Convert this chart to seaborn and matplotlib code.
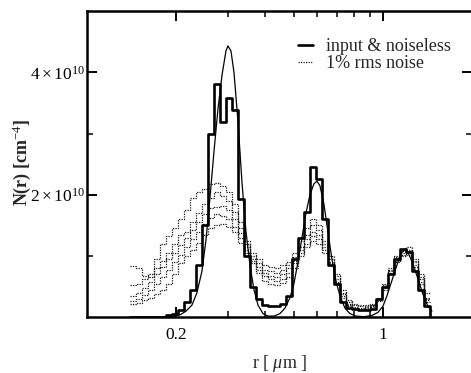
import numpy as np
import pandas as pd
import matplotlib
matplotlib.use("Agg")
import matplotlib.pyplot as plt
import seaborn as sns
from matplotlib.lines import Line2D
from matplotlib.ticker import FixedLocator, NullFormatter

# ---------------- data (N in units of 1e10 cm^-4) ----------------
bin_edges = [0.1397, 0.1464, 0.1534, 0.1607, 0.1683, 0.1764, 0.1848, 0.1936, 0.2029, 0.2125,
             0.2227, 0.2333, 0.2445, 0.2561, 0.2684, 0.2812, 0.2946, 0.3087, 0.3234, 0.3389,
             0.3550, 0.3720, 0.3898, 0.4084, 0.4279, 0.4483, 0.4697, 0.4921, 0.5156, 0.5402,
             0.5660, 0.5930, 0.6213, 0.6510, 0.6821, 0.7147, 0.7488, 0.7845, 0.8220, 0.8612,
             0.9023, 0.9454, 0.9905, 1.0378, 1.0873, 1.1392, 1.1936, 1.2506, 1.3103, 1.3729,
             1.4384]

noiseless = [0.0, 0.0, 0.0, 0.0, 0.0, 0.01, 0.03, 0.05, 0.12, 0.25,
             0.45, 0.85, 1.50, 2.99, 3.81, 3.19, 3.58, 3.38, 1.93, 1.00,
             0.50, 0.30, 0.20, 0.18, 0.18, 0.22, 0.35, 0.95, 1.30, 1.72,
             2.46, 2.25, 1.60, 0.85, 0.55, 0.25, 0.15, 0.13, 0.12, 0.12,
             0.14, 0.30, 0.50, 0.70, 0.95, 1.11, 1.06, 0.75, 0.45, 0.18]

noise_a = [0.83, 0.80, 0.68, 0.65, 0.95, 1.19, 1.32, 1.45, 1.60, 1.75,
           1.95, 2.05, 2.10, 2.17, 2.20, 2.15, 2.05, 1.85, 1.55, 1.25,
           1.05, 0.95, 0.85, 0.82, 0.80, 0.85, 0.90, 1.05, 1.25, 1.45,
           1.60, 1.50, 1.25, 1.00, 0.70, 0.45, 0.28, 0.22, 0.20, 0.20,
           0.22, 0.30, 0.55, 0.80, 1.00, 1.12, 1.15, 0.95, 0.70, 0.40]
noise_b = [0.52, 0.55, 0.62, 0.70, 0.80, 0.92, 1.05, 1.20, 1.35, 1.40,
           1.55, 1.70, 1.85, 1.95, 2.05, 1.98, 1.90, 1.72, 1.45, 1.20,
           1.00, 0.88, 0.78, 0.75, 0.72, 0.78, 0.85, 0.98, 1.15, 1.35,
           1.50, 1.42, 1.20, 0.95, 0.68, 0.40, 0.25, 0.20, 0.18, 0.18,
           0.20, 0.32, 0.50, 0.78, 0.98, 1.08, 1.10, 0.92, 0.62, 0.32]
noise_c = [0.34, 0.40, 0.48, 0.58, 0.70, 0.82, 0.95, 1.05, 1.18, 1.30,
           1.42, 1.55, 1.68, 1.78, 1.80, 1.82, 1.75, 1.60, 1.38, 1.15,
           0.95, 0.82, 0.72, 0.68, 0.65, 0.70, 0.80, 0.92, 1.10, 1.28,
           1.40, 1.35, 1.15, 0.90, 0.62, 0.38, 0.22, 0.17, 0.15, 0.16,
           0.20, 0.30, 0.52, 0.75, 0.95, 1.05, 1.08, 0.90, 0.65, 0.30]
noise_d = [0.26, 0.30, 0.36, 0.45, 0.55, 0.65, 0.78, 0.90, 1.02, 1.15,
           1.28, 1.40, 1.52, 1.62, 1.68, 1.65, 1.60, 1.48, 1.30, 1.10,
           0.92, 0.78, 0.68, 0.62, 0.60, 0.62, 0.72, 0.88, 1.05, 1.20,
           1.32, 1.28, 1.10, 0.88, 0.58, 0.35, 0.20, 0.15, 0.14, 0.15,
           0.18, 0.28, 0.48, 0.72, 0.92, 1.02, 1.05, 0.85, 0.58, 0.28]
noise_e = [0.21, 0.24, 0.28, 0.32, 0.38, 0.45, 0.54, 0.70, 0.88, 1.00,
           1.10, 1.22, 1.35, 1.45, 1.50, 1.52, 1.48, 1.40, 1.22, 1.05,
           0.88, 0.72, 0.60, 0.55, 0.52, 0.56, 0.65, 0.80, 1.00, 1.15,
           1.25, 1.20, 1.05, 0.85, 0.55, 0.32, 0.18, 0.13, 0.12, 0.13,
           0.16, 0.26, 0.45, 0.70, 0.90, 1.00, 1.02, 0.82, 0.55, 0.25]

input_r = [0.1397, 0.1764, 0.1907, 0.2061, 0.2159, 0.2262, 0.2351, 0.2444, 0.2521, 0.2602,
           0.2684, 0.2769, 0.2857, 0.2947, 0.2993, 0.3063, 0.3136, 0.3235, 0.3338, 0.3443,
           0.3552, 0.3664, 0.3780, 0.3929, 0.4084, 0.4279, 0.4483, 0.4662, 0.4848, 0.5000,
           0.5158, 0.5321, 0.5489, 0.5662, 0.5841, 0.5978, 0.6118, 0.6312, 0.6511, 0.6717,
           0.6929, 0.7148, 0.7434, 0.7729, 0.8097, 0.8617, 0.9170, 0.9608, 0.9989, 1.0304,
           1.0628, 1.0963, 1.1308, 1.1575, 1.1849, 1.2131, 1.2417, 1.2808, 1.3213, 1.3629,
           1.4168, 1.4622]
input_n = [0.0, 0.0, 0.01, 0.04, 0.10, 0.20, 0.40, 0.75, 1.25, 1.95,
           2.70, 3.40, 3.95, 4.35, 4.43, 4.35, 4.00, 3.20, 2.20, 1.40,
           0.85, 0.45, 0.20, 0.06, 0.02, 0.02, 0.06, 0.15, 0.32, 0.55,
           0.90, 1.30, 1.70, 2.00, 2.18, 2.22, 2.15, 1.85, 1.40, 0.95,
           0.60, 0.35, 0.15, 0.06, 0.02, 0.01, 0.03, 0.08, 0.18, 0.35,
           0.55, 0.75, 0.95, 1.06, 1.10, 1.06, 0.95, 0.78, 0.58, 0.38,
           0.18, 0.10]

x_major = [0.2, 1.0]
x_major_labels = ["0.2", "1"]
x_minor = [0.3, 0.4, 0.5, 0.6, 0.7, 0.8, 0.9]
y_major = [2, 4]
y_major_labels = [r"$2\times10^{10}$", r"$4\times10^{10}$"]
y_minor = [1, 3]
legend_labels = ["input & noiseless", "1% rms noise"]

# ---------------- style ----------------
sns.set_theme(style="ticks")
plt.rcParams["font.family"] = ["Liberation Serif", "DejaVu Serif"]
plt.rcParams["mathtext.fontset"] = "custom"
plt.rcParams["mathtext.rm"] = "Liberation Serif"
plt.rcParams["mathtext.it"] = "Liberation Serif:italic"
plt.rcParams["mathtext.bf"] = "Liberation Serif:bold"

W, H = 471, 373
fig = plt.figure(figsize=(W / 100, H / 100), dpi=100)
ax = fig.add_axes([87 / W, (H - 317.3) / H, (472.2 - 87) / W, (317.3 - 11) / H])
ax.set_xscale("log")
ax.set_xlim(0.1, 2.0)
ax.set_ylim(0, 5.0)

ink = "black"
dotted = (0, (1.0, 1.0))

for series in [noise_a, noise_b, noise_c, noise_d, noise_e]:
    df = pd.DataFrame({"r": bin_edges, "N": series + [series[-1]]})
    sns.lineplot(data=df, x="r", y="N", ax=ax, estimator=None, sort=False,
                 drawstyle="steps-post", color="#1a1a1a", lw=0.9, linestyle=dotted)

df_in = pd.DataFrame({"r": input_r, "N": input_n})
sns.lineplot(data=df_in, x="r", y="N", ax=ax, estimator=None, sort=False,
             color=ink, lw=0.9)

df_nl = pd.DataFrame({"r": bin_edges, "N": noiseless + [0.0]})
sns.lineplot(data=df_nl, x="r", y="N", ax=ax, estimator=None, sort=False,
             drawstyle="steps-post", color=ink, lw=1.9)

# axes decoration
for s in ax.spines.values():
    s.set_linewidth(1.8)
    s.set_color(ink)

ax.xaxis.set_major_locator(FixedLocator(x_major))
ax.set_xticklabels(x_major_labels)
ax.xaxis.set_minor_locator(FixedLocator(x_minor))
ax.xaxis.set_minor_formatter(NullFormatter())
ax.yaxis.set_major_locator(FixedLocator(y_major))
ax.set_yticklabels(y_major_labels)
ax.yaxis.set_minor_locator(FixedLocator(y_minor))
ax.yaxis.set_minor_formatter(NullFormatter())

ax.tick_params(which="both", direction="in", top=True, right=True, colors=ink)
ax.tick_params(which="major", length=7, width=1.4, labelsize=12.5)
ax.tick_params(which="minor", length=4, width=1.1)
ax.tick_params(axis="x", which="major", pad=7)
ax.tick_params(axis="y", which="major", pad=1.5)
ax.set_xlabel("")
ax.set_ylabel("")

fig.text(22 / W, 1 - 162 / H, r"N(r) [cm$^{-4}$]", rotation=90, ha="center", va="center",
         fontsize=13, fontweight="bold")
fig.text(280 / W, 1 - 363 / H, r"r [ $\mu$m ]", ha="center", va="center", fontsize=13)

handles = [Line2D([], [], color=ink, lw=1.9),
           Line2D([], [], color="#1a1a1a", lw=0.9, linestyle=dotted)]
ax.legend(handles, legend_labels, loc="upper left", bbox_to_anchor=(0.51, 0.958),
          frameon=False, fontsize=13, handlelength=0.85, handletextpad=0.7,
          labelspacing=0.0, borderpad=0.3)

fig.savefig("out.png", dpi=100)
